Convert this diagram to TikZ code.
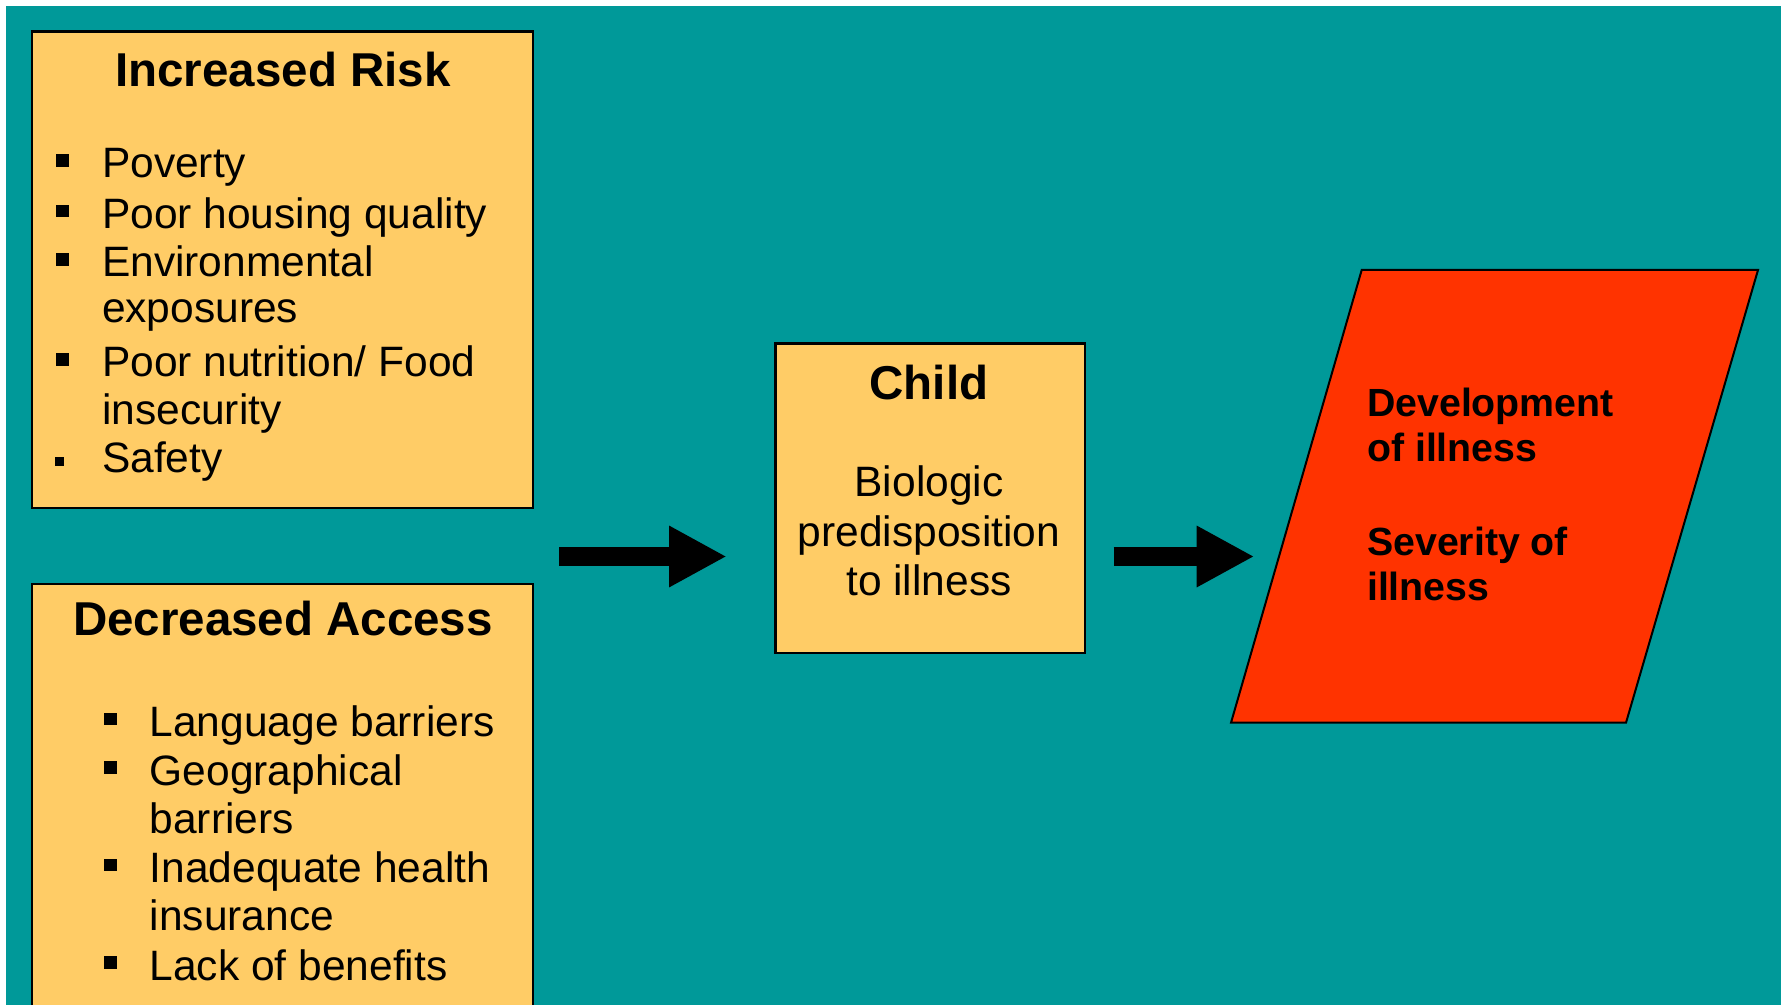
\documentclass[tikz,border=0pt]{standalone}
\usepackage{fontspec}
\setmainfont{Liberation Sans}
\usetikzlibrary{arrows.meta}
\definecolor{bgteal}{HTML}{009999}
\definecolor{boxyellow}{HTML}{FFCC66}
\definecolor{illred}{HTML}{FF3300}
\begin{document}
\begin{tikzpicture}[x=0.5pt,y=-0.5pt,
  panel/.style={draw=black, line width=1.3pt, fill=boxyellow, inner sep=0pt, anchor=north west},
  titletext/.style={font={\fontsize{23.75}{28}\selectfont\bfseries}, anchor=base, inner sep=0pt},
  bodytext/.style={font={\fontsize{21.25}{25}\selectfont}, anchor=base west, inner sep=0pt},
  bodyc/.style={font={\fontsize{21.25}{25}\selectfont}, anchor=base, inner sep=0pt},
  redtext/.style={font={\fontsize{19.65}{23}\selectfont\bfseries}, anchor=base west, inner sep=0pt},
  blockarrow/.style={line width=9.2pt, draw=black, -{Triangle[length=28.85pt, width=28.7pt]}},
  bulletsq/.style={fill=black}
]
\useasboundingbox (0,0) rectangle (1781,1005);
\fill[white] (0,0) rectangle (1781,1005);
\fill[bgteal] (6,6) rectangle (1781,1005);

% boxes
\node[panel, minimum width=250.5pt, minimum height=238.3pt] (risk) at (30.7,30) {};
\node[panel, minimum width=250.5pt, minimum height=216pt] (access) at (30.7,582.7) {};
\node[panel, minimum width=154.65pt, minimum height=154.85pt] (child) at (774.3,342) {};

% outcome parallelogram
\coordinate (p1) at (1361.7,270);
\coordinate (p2) at (1758,270);
\coordinate (p3) at (1626,722.7);
\coordinate (p4) at (1231,722.7);
\filldraw[fill=illred, draw=black, line width=1pt] (p1) -- (p2) -- (p3) -- (p4) -- cycle;

% Increased Risk
\node[titletext] (riskT) at (283,86.7) {Increased Risk};
\foreach \n/\y/\t in {r1/178/Poverty, r2/228.5/Poor housing quality, r3/277/Environmental, r4/322.7/exposures, r5/376.7/{Poor nutrition/ Food}, r6/424/insecurity, r7/472/Safety}
  \node[bodytext] (\n) at (101.7,\y) {\t};
\foreach \y in {178,228.5,277,376.7}
  \fill[bulletsq] (56,\y-11) rectangle (68.7,\y-23.7);
\fill[bulletsq] (55,456.7) rectangle (64.3,465.7);

% Decreased Access
\node[titletext] (accessT) at (283,635) {Decreased Access};
\foreach \n/\y/\t in {d1/736.7/Language barriers, d2/785/Geographical, d3/833.3/barriers, d4/882.7/Inadequate health, d5/930/insurance, d6/980/Lack of benefits}
  \node[bodytext] (\n) at (149.3,\y) {\t};
\foreach \y in {736.7,785,882.7,980}
  \fill[bulletsq] (104,\y-11.4) rectangle (116.7,\y-24);

% Child
\node[titletext] (childT) at (929,399) {Child};
\node[bodyc] (c1) at (929,496.7) {Biologic};
\node[bodyc] (c2) at (929,546.7) {predisposition};
\node[bodyc] (c3) at (929,595) {to illness};

% outcome text
\node[redtext] (o1) at (1366.7,416.7) {Development};
\node[redtext] (o2) at (1366.7,461.7) {of illness};
\node[redtext] (o3) at (1366.7,555) {Severity of};
\node[redtext] (o4) at (1366.7,600.7) {illness};

% arrows
\coordinate (a1) at (559,556.5);
\coordinate (a2e) at (1254.3,556.5);
\draw[blockarrow, shorten >=23.8pt] (a1) -- (a1 -| child.west);
\draw[blockarrow, shorten <=13.7pt] (child.east |- a1) -- (a2e);
\end{tikzpicture}
\end{document}
